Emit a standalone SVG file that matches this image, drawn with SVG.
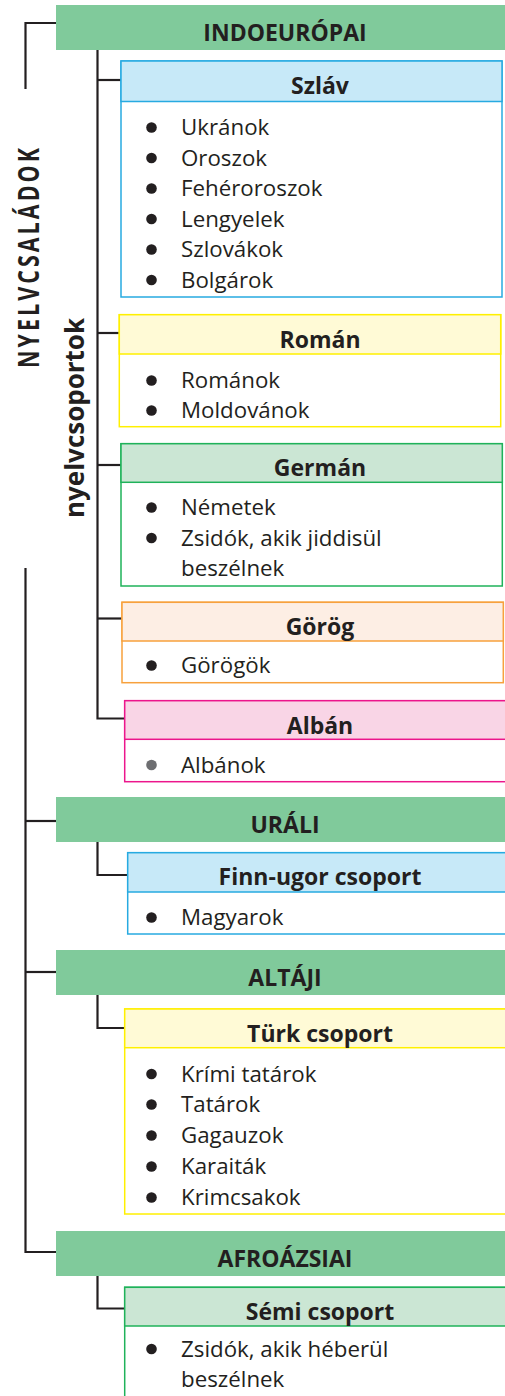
<svg xmlns="http://www.w3.org/2000/svg" width="505" height="1396" viewBox="0 0 505 1396">
<style>
.fam{fill:#80ca9b}
.t{font-family:"Open Sans","Noto Sans","Liberation Sans",sans-serif;fill:#231f20}
.h{font-weight:700;font-size:23px;text-anchor:middle}
.it{font-size:22.3px}
.ln{fill:none;stroke:#231f20;stroke-width:2.2}
.box{stroke-width:1.5}
.blue{stroke:#27aae1}.blueF{fill:#c7e9f8}
.yel{stroke:#fff000}.yelF{fill:#fffad6}
.grn{stroke:#1fb25a}.grnF{fill:#cbe6d4}
.org{stroke:#f7a13d}.orgF{fill:#fdeee4}
.mag{stroke:#ec168c}.magF{fill:#f9d5e6}
.b circle,circle.b{fill:#231f20}
circle{r:5.3px}
</style>
<rect width="505" height="1396" fill="#ffffff"/>

<g id="connectors" class="ln">
<path d="M25.5,89 V23 H56"/>
<path d="M25.5,568 V1252 H56"/>
<path d="M25.5,821 H56"/>
<path d="M25.5,972 H56"/>
<path d="M97.5,50 V718.5 H124.7"/>
<path d="M97.5,80 H121"/>
<path d="M97.5,333 H119.3"/>
<path d="M97.5,465 H121"/>
<path d="M97.5,618.5 H122"/>
<path d="M97.5,842 V875 H127.7"/>
<path d="M97.5,995 V1028 H124.7"/>
<path d="M97.5,1276 V1308.5 H124.7"/>
</g>

<g id="label-nyelvcsaladok">
<text class="t" font-weight="700" font-size="28" letter-spacing="4" text-anchor="middle" textLength="223" lengthAdjust="spacingAndGlyphs" transform="translate(38.5,256.5) rotate(-90)">NYELVCSALÁDOK</text>
</g>
<g id="label-nyelvcsoportok">
<text class="t" font-weight="700" font-size="27" text-anchor="middle" textLength="200" lengthAdjust="spacingAndGlyphs" transform="translate(84,418) rotate(-90)">nyelvcsoportok</text>
</g>

<g id="indoeuropai">
<rect class="fam" x="56" y="5" width="460" height="45"/>
<text class="t h" x="285" y="40.5" font-size="23.5">INDOEURÓPAI</text>
</g>

<g id="szlav">
<rect x="121" y="61" width="381" height="236" fill="#fff" class="box blue"/>
<rect x="121" y="61" width="381" height="40.5" class="box blue blueF"/>
<text class="t h" x="320" y="94">Szláv</text>
<g class="b"><circle cx="151.5" cy="127.5" r="5.3"/><circle cx="151.5" cy="158" r="5.3"/><circle cx="151.5" cy="188.5" r="5.3"/><circle cx="151.5" cy="219" r="5.3"/><circle cx="151.5" cy="249.5" r="5.3"/><circle cx="151.5" cy="280" r="5.3"/></g>
<text class="t it" x="181" y="135">Ukránok</text>
<text class="t it" x="181" y="165.5">Oroszok</text>
<text class="t it" x="181" y="196">Fehéroroszok</text>
<text class="t it" x="181" y="226.5">Lengyelek</text>
<text class="t it" x="181" y="257">Szlovákok</text>
<text class="t it" x="181" y="287.5">Bolgárok</text>
</g>

<g id="roman">
<rect x="119.3" y="314.7" width="381.4" height="112" fill="#fff" class="box yel"/>
<rect x="119.3" y="314.7" width="381.4" height="39.3" class="box yel yelF"/>
<text class="t h" x="320" y="347.5">Román</text>
<g class="b"><circle cx="151.5" cy="380.5" r="5.3"/><circle cx="151.5" cy="410.5" r="5.3"/></g>
<text class="t it" x="181" y="388">Románok</text>
<text class="t it" x="181" y="418">Moldovánok</text>
</g>

<g id="german">
<rect x="121" y="443.7" width="381.3" height="142.3" fill="#fff" class="box grn"/>
<rect x="121" y="443.7" width="381.3" height="38.6" class="box grn grnF"/>
<text class="t h" x="320" y="476">Germán</text>
<g class="b"><circle cx="151.5" cy="507.5" r="5.3"/><circle cx="151.5" cy="538" r="5.3"/></g>
<text class="t it" x="181" y="515">Németek</text>
<text class="t it" x="181" y="545.5">Zsidók, akik jiddisül</text>
<text class="t it" x="181" y="576">beszélnek</text>
</g>

<g id="gorog">
<rect x="122" y="602.3" width="381.3" height="80.4" fill="#fff" class="box org"/>
<rect x="122" y="602.3" width="381.3" height="38.7" class="box org orgF"/>
<text class="t h" x="320" y="635">Görög</text>
<circle class="b" cx="151.5" cy="665.5" r="5.3"/>
<text class="t it" x="181" y="673">Görögök</text>
</g>

<g id="alban">
<rect x="124.7" y="700.7" width="400" height="81" fill="#fff" class="box mag"/>
<rect x="124.7" y="700.7" width="400" height="38.6" class="box mag magF"/>
<text class="t h" x="320" y="733.5">Albán</text>
<circle cx="151.5" cy="765" r="5.3" fill="#6d6e71"/>
<text class="t it" x="181" y="772.5">Albánok</text>
</g>

<g id="urali">
<rect class="fam" x="56" y="797" width="460" height="45"/>
<text class="t h" x="285" y="833" font-size="23.5">URÁLI</text>
</g>

<g id="finn-ugor">
<rect x="127.7" y="852.7" width="400" height="81.3" fill="#fff" class="box blue"/>
<rect x="127.7" y="852.7" width="400" height="39.3" class="box blue blueF"/>
<text class="t h" x="320" y="885">Finn-ugor csoport</text>
<circle class="b" cx="151.5" cy="917.5" r="5.3"/>
<text class="t it" x="181" y="925">Magyarok</text>
</g>

<g id="altaji">
<rect class="fam" x="56" y="950" width="460" height="45"/>
<text class="t h" x="285" y="986" font-size="23.5">ALTÁJI</text>
</g>

<g id="turk">
<rect x="124.7" y="1009" width="400" height="205" fill="#fff" class="box yel"/>
<rect x="124.7" y="1009" width="400" height="38.7" class="box yel yelF"/>
<text class="t h" x="320" y="1041.5">Türk csoport</text>
<g class="b"><circle cx="151.5" cy="1074" r="5.3"/><circle cx="151.5" cy="1104.5" r="5.3"/><circle cx="151.5" cy="1135.5" r="5.3"/><circle cx="151.5" cy="1166.5" r="5.3"/><circle cx="151.5" cy="1197.5" r="5.3"/></g>
<text class="t it" x="181" y="1081.5">Krími tatárok</text>
<text class="t it" x="181" y="1112">Tatárok</text>
<text class="t it" x="181" y="1143">Gagauzok</text>
<text class="t it" x="181" y="1174">Karaiták</text>
<text class="t it" x="181" y="1205">Krimcsakok</text>
</g>

<g id="afroazsiai">
<rect class="fam" x="56" y="1231" width="460" height="45"/>
<text class="t h" x="285" y="1267" font-size="23.5">AFROÁZSIAI</text>
</g>

<g id="semi">
<rect x="124.7" y="1287.3" width="400" height="140" fill="#fff" class="box grn"/>
<rect x="124.7" y="1287.3" width="400" height="38.7" class="box grn grnF"/>
<text class="t h" x="320" y="1320">Sémi csoport</text>
<circle class="b" cx="151.5" cy="1349" r="5.3"/>
<text class="t it" x="181" y="1356.5">Zsidók, akik héberül</text>
<text class="t it" x="181" y="1387">beszélnek</text>
</g>
</svg>
